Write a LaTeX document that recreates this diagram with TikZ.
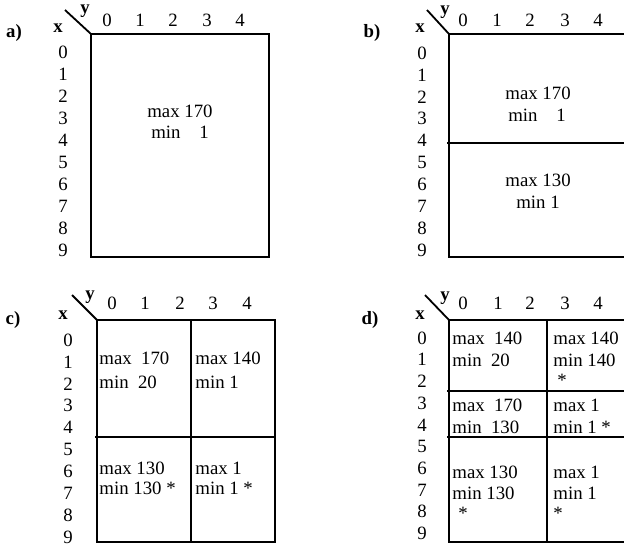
\documentclass[tikz,border=0pt]{standalone}
\usepackage{fontspec}
\setmainfont{Liberation Serif}
\usetikzlibrary{positioning}

\tikzset{
  grid/.style={black, line width=0.9pt},
  lbl/.style={font=\fontsize{9.4}{11}\selectfont\bfseries},
  cell/.style={anchor=west},
}

\begin{document}
\begin{tikzpicture}[x=0.5pt,y=-0.5pt]
  \tikzstyle{every node}+=[inner sep=0pt, font=\fontsize{9.4}{11}\selectfont]
  \clip (0,0) rectangle (624,548);
  % a)
  \node[lbl] (a-lbl) at (14,33) {a)};
  \node[lbl] (a-x) at (58,28) {x};
  \node[lbl] (a-y) at (85,11) {y};
  \coordinate (a-d) at (65,10);
  \coordinate (a-nw) at (91,34);
  \coordinate (a-se) at (269,257);
  \draw [grid] (a-d) -- (a-nw);
  \draw [grid] (a-nw) rectangle (a-se);
  \foreach \r in {0,...,9}
    \node (a-r\r) at (63,{52+22*\r}) {\r};
  \foreach \c/\cx in {0/107,1/140,2/173,3/207,4/240}
    \node (a-c\c) at (\cx,20) {\c};
  \node (a-max) at (180,111) {max 170};
  \node (a-min) at (180,132) {min\ \ \ \ 1};
  % b)
  \node[lbl] (b-lbl) at (372,33) {b)};
  \node[lbl] (b-x) at (420,28) {x};
  \node[lbl] (b-y) at (445,12) {y};
  \coordinate (b-d) at (427,10);
  \coordinate (b-nw) at (449,34);
  \coordinate (b-se) at (632,257);
  \coordinate (b-h1) at (447,143);
  \coordinate (b-h2) at (632,143);
  \draw [grid] (b-d) -- (b-nw);
  \draw [grid] (b-nw) rectangle (b-se);
  \draw [grid] (b-h1) -- (b-h2);
  \foreach \r in {0,...,9}
    \node (b-r\r) at (422,{53+21.9*\r}) {\r};
  \foreach \c/\cx in {0/463,1/497,2/530,3/565,4/598}
    \node (b-c\c) at (\cx,20) {\c};
  \node (b-max1) at (538,93) {max 170};
  \node (b-min1) at (537,115) {min\ \ \ \ 1};
  \node (b-max2) at (538,180) {max 130};
  \node (b-min2) at (538,202) {min 1};
  % c)
  \node[lbl] (c-lbl) at (13,320) {c)};
  \node[lbl] (c-x) at (63,315) {x};
  \node[lbl] (c-y) at (90,297) {y};
  \coordinate (c-d) at (72,295);
  \coordinate (c-nw) at (97,320);
  \coordinate (c-se) at (275,542);
  \coordinate (c-v1) at (191,320);
  \coordinate (c-v2) at (191,542);
  \coordinate (c-h1) at (95,437);
  \coordinate (c-h2) at (275,437);
  \draw [grid] (c-d) -- (c-nw);
  \draw [grid] (c-nw) rectangle (c-se);
  \draw [grid] (c-v1) -- (c-v2);
  \draw [grid] (c-h1) -- (c-h2);
  \foreach \r in {0,...,9}
    \node (c-r\r) at (68,{340+21.9*\r}) {\r};
  \foreach \c/\cx in {0/112,1/145,2/180,3/213,4/247}
    \node (c-c\c) at (\cx,303) {\c};
  \node[cell] (c-max11) at (99,358) {max\ \ 170};
  \node[cell] (c-min11) at (99,382) {min\ \ 20};
  \node[cell] (c-max12) at (195,358) {max 140};
  \node[cell] (c-min12) at (195,382) {min 1};
  \node[cell] (c-max21) at (99,468) {max 130};
  \node[cell] (c-min21) at (99,488) {min 130 *};
  \node[cell] (c-max22) at (195,468) {max 1};
  \node[cell] (c-min22) at (195,488) {min 1 *};
  % d)
  \node[lbl] (d-lbl) at (370,320) {d)};
  \node[lbl] (d-x) at (420,315) {x};
  \node[lbl] (d-y) at (445,298) {y};
  \coordinate (d-d) at (425,295);
  \coordinate (d-nw) at (449,320);
  \coordinate (d-se) at (632,542);
  \coordinate (d-v1) at (547,320);
  \coordinate (d-v2) at (547,542);
  \coordinate (d-h1) at (447,391);
  \coordinate (d-h2) at (632,391);
  \coordinate (d-h3) at (447,437);
  \coordinate (d-h4) at (632,437);
  \draw [grid] (d-d) -- (d-nw);
  \draw [grid] (d-nw) rectangle (d-se);
  \draw [grid] (d-v1) -- (d-v2);
  \draw [grid] (d-h1) -- (d-h2);
  \draw [grid] (d-h3) -- (d-h4);
  \foreach \r in {0,...,9}
    \node (d-r\r) at (422,{338+21.7*\r}) {\r};
  \foreach \c/\cx in {0/463,1/498,2/530,3/565,4/598}
    \node (d-c\c) at (\cx,303) {\c};
  \node[cell] (d-max11) at (452,338) {max\ \ 140};
  \node[cell] (d-min11) at (452,360) {min\ \ 20};
  \node[cell] (d-max12) at (553,338) {max 140};
  \node[cell] (d-min12) at (553,360) {min 140};
  \node (d-st12) at (562,380) {*};
  \node[cell] (d-max21) at (452,405) {max\ \ 170};
  \node[cell] (d-min21) at (452,427) {min\ \ 130};
  \node[cell] (d-max22) at (553,405) {max 1};
  \node[cell] (d-min22) at (553,427) {min 1 *};
  \node[cell] (d-max31) at (452,472) {max 130};
  \node[cell] (d-min31) at (452,493) {min 130};
  \node (d-st31) at (463,513) {*};
  \node[cell] (d-max32) at (553,472) {max 1};
  \node[cell] (d-min32) at (553,493) {min 1};
  \node (d-st32) at (558,513) {*};
\end{tikzpicture}
\end{document}
